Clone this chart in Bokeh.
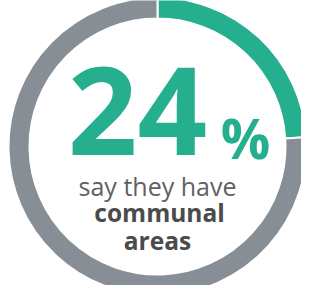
import numpy as np
from bokeh.plotting import figure
from bokeh.models import Range1d, ColumnDataSource
from bokeh.core.properties import value
from bokeh.embed import file_html
from bokeh.resources import INLINE

# ---- data ----
segments = ["have communal areas", "do not"]
shares = [24, 76]
seg_colors = ["#26AF8E", "#878E96"]
big_number = "24"
pct_sign = "%"
line1 = "say they have"
line2 = "communal"
line3 = "areas"

# ---- figure: data units equal screen pixels, ring centre at (0, 0) ----
W, H = 301, 285
p = figure(width=W, height=H, output_backend="svg", toolbar_location=None,
           x_range=Range1d(-157, 144), y_range=Range1d(-139, 146),
           min_border=0, outline_line_color=None)
p.axis.visible = False
p.grid.visible = False
p.background_fill_color = "white"
p.border_fill_color = "white"

frac = np.array(shares, dtype=float) / sum(shares)
ends = np.cumsum(frac)
starts = ends - frac
start_ang = np.pi / 2 - starts * 2 * np.pi
end_ang = np.pi / 2 - ends * 2 * np.pi

src = ColumnDataSource(dict(seg=segments, s=start_ang, e=end_ang, c=seg_colors))
p.annular_wedge(x=0, y=0, inner_radius=128, outer_radius=149,
                start_angle="e", end_angle="s", direction="anticlock",
                fill_color="c", line_color="white", line_width=2, source=src)


def label(x, baseline_y, txt, size, color, bold):
    # small empirical baseline correction for the svg text placement
    y = baseline_y + 0.32 * size
    p.text(x=[x], y=[y], text=[txt], text_font=value("Open Sans"),
           text_font_style="bold" if bold else "normal",
           text_font_size=f"{size}px", text_color=color,
           text_align="center", text_baseline="alphabetic")


green = seg_colors[0]
label(-20, -4, big_number, 122, green, True)
label(88, -9, pct_sign, 55, green, True)
label(0, -47, line1, 25, "#606163", False)
label(2, -74, line2, 24.5, "#4B4B4B", True)
label(0, -102, line3, 24.5, "#4B4B4B", True)

open("out.html", "w").write(file_html(p, INLINE))
